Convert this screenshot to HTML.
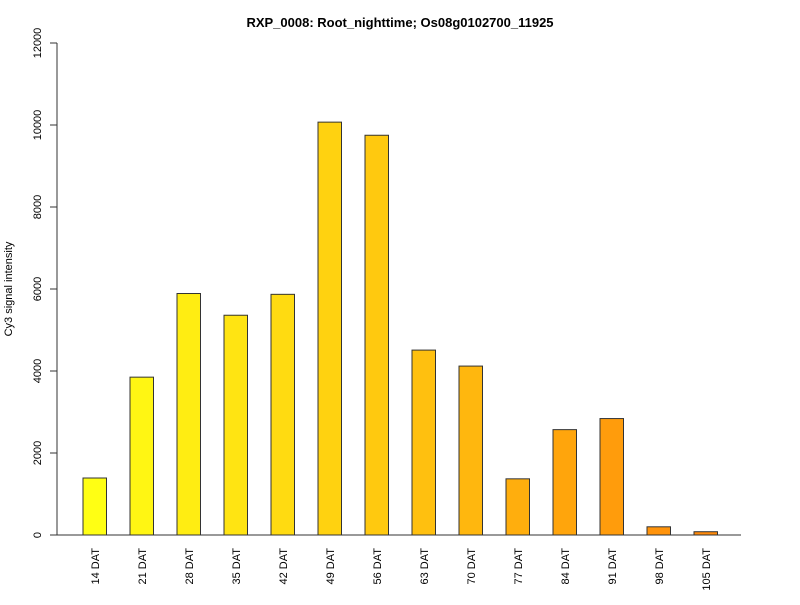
<!DOCTYPE html>
<html><head><meta charset="utf-8"><style>
body{margin:0;background:#fff;}
svg text{font-family:"Liberation Sans",sans-serif;}
</style></head><body>
<svg id="chart" width="800" height="600" xmlns="http://www.w3.org/2000/svg">
<rect width="800" height="600" fill="#fff"/>
<text x="400" y="27" text-anchor="middle" font-size="13" font-weight="bold">RXP_0008: Root_nighttime; Os08g0102700_11925</text>
<text transform="translate(12,289) rotate(-90)" text-anchor="middle" font-size="11">Cy3 signal intensity</text>
<g id="yaxis"></g>
<g id="bars"></g>
<g id="xlabels"></g>
<line x1="50" y1="535" x2="741" y2="535" stroke="#333"/>
</svg>
<script>
const categories=["14 DAT","21 DAT","28 DAT","35 DAT","42 DAT","49 DAT","56 DAT","63 DAT","70 DAT","77 DAT","84 DAT","91 DAT","98 DAT","105 DAT"];
const values=[1390,3850,5890,5360,5870,10070,9750,4510,4120,1370,2570,2840,200,80];
const yTicks=[0,2000,4000,6000,8000,10000,12000];
const NS="http://www.w3.org/2000/svg";
const y=v=>535-v*(492/12000);
const x=i=>83+i*47;
const bw=23.5;
function mk(t,a){const e=document.createElementNS(NS,t);for(const k in a)e.setAttribute(k,a[k]);return e;}
const ya=document.getElementById('yaxis');
let al=mk('line',{x1:57,y1:y(0),x2:57,y2:y(12000),stroke:'#333'});


ya.appendChild(al);
yTicks.forEach(t=>{
 const l=mk('line',{x1:50,y1:y(t),x2:57,y2:y(t),stroke:'#333'});
 
 
 ya.appendChild(l);
 const tx=mk('text',{transform:`translate(41,${y(t)}) rotate(-90)`,'text-anchor':'middle','font-size':'11'});
 tx.textContent=t;
 
 
 ya.appendChild(tx);
});
const bg=document.getElementById('bars'),xl=document.getElementById('xlabels');
const n=categories.length;
categories.forEach((c,i)=>{
 const f=i/(n-1);
 const g=Math.round(255-f*(255-138)),b=Math.round(20-f*10);
 const r=mk('rect',{x:x(i),y:y(values[i]),width:bw,height:535-y(values[i]),fill:`rgb(255,${g},${b})`,stroke:'#333','stroke-width':1});
 
 
 bg.appendChild(r);
 const t=mk('text',{transform:`translate(${x(i)+bw/2+4},548) rotate(-90)`,'text-anchor':'end','font-size':'11'});
 t.textContent=c;
 
 
 xl.appendChild(t);
});
</script>
</body></html>
